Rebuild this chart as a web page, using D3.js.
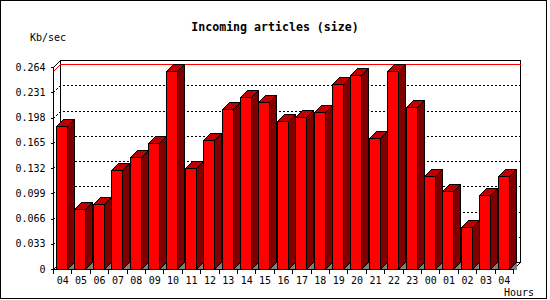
<!DOCTYPE html>
<html>
<head>
<meta charset="utf-8">
<script src="https://cdn.jsdelivr.net/npm/d3@7"></script>
<style>
  body { margin: 0; background: #fff; }
  svg { display: block; }
</style>
</head>
<body>
<div id="chart"></div>
<script>
// hours of the day, in the order shown
const hours = ["04", "05", "06", "07", "08", "09", "10", "11", "12", "13", "14", "15", "16",
               "17", "18", "19", "20", "21", "22", "23", "00", "01", "02", "03", "04b"];
const hourLabels = hours.map(h => h.slice(0, 2));

// incoming article size, Kb/sec
const kbPerSec = [0.1875, 0.0778, 0.0856, 0.130, 0.1466, 0.1649, 0.2594, 0.1323, 0.168, 0.2085,
                  0.2251, 0.2185, 0.1937, 0.1989, 0.2054, 0.2420, 0.2538, 0.1715, 0.2594, 0.212,
                  0.1218, 0.1022, 0.0552, 0.097, 0.1218];

const yTicks = [0, 0.033, 0.066, 0.099, 0.132, 0.165, 0.198, 0.231, 0.264];
const yTickLabels = ["0", "0.033", "0.066", "0.099", "0.132", "0.165", "0.198", "0.231", "0.264"];

const W = 550, H = 300;
const depth = 7;                 // 3d offset (right and up)
const plotLeft = 53.5, plotRight = 513.5, plotBottom = 269.5, plotTop = 67.5;
const barOffset = 3, barWidth = 11;
const font = "'DejaVu Sans Mono', monospace";

const x = d3.scaleBand().domain(hours).range([plotLeft, plotRight]);
const y = d3.scaleLinear().domain([0, 0.264]).range([plotBottom, plotTop]);
const snap = v => Math.round(v - 0.5) + 0.5;

const svg = d3.select("#chart").append("svg")
    .attr("width", W)
    .attr("height", H)
    .attr("shape-rendering", "crispEdges");

svg.append("rect")
    .attr("x", 0.5).attr("y", 0.5)
    .attr("width", 546).attr("height", 298)
    .attr("fill", "#fff").attr("stroke", "#000");

// title and axis captions
svg.append("text")
    .attr("x", 275).attr("y", 31)
    .attr("text-anchor", "middle")
    .attr("font-family", font).attr("font-weight", "bold").attr("font-size", 11.6)
    .text("Incoming articles (size)");

svg.append("text")
    .attr("x", 30).attr("y", 41)
    .attr("font-family", font).attr("font-size", 10)
    .text("Kb/sec");

svg.append("text")
    .attr("x", 534).attr("y", 295.5)
    .attr("text-anchor", "end")
    .attr("font-family", font).attr("font-size", 10)
    .text("Hours");

// back wall frame
const back = svg.append("g").attr("stroke", "#000").attr("fill", "none");
back.append("path")
    .attr("d", `M${plotLeft + depth},${plotBottom - depth}V${plotTop - depth}H${plotRight + depth}V${plotBottom - depth}H${plotLeft + depth}`);
back.append("path").attr("d", `M${plotLeft},${plotTop}L${plotLeft + depth},${plotTop - depth}`);
back.append("path").attr("d", `M${plotRight},${plotBottom}L${plotRight + depth},${plotBottom - depth}`);
back.append("path").attr("d", `M${plotLeft},${plotBottom}L${plotLeft + depth},${plotBottom - depth}`);

// dotted grid on the back wall
const grid = svg.append("g")
    .attr("stroke", "#000").attr("stroke-dasharray", "2,2").attr("fill", "none");
grid.selectAll("path")
    .data(yTicks.slice(1, -1))
    .join("path")
    .attr("d", d => {
        const yy = snap(y(d));
        return `M${plotLeft},${yy}L${plotLeft + depth},${yy - depth}H${plotRight + depth}`;
    });

// max line
const maxY = snap(y(d3.max(kbPerSec)));
svg.append("path")
    .attr("d", `M${plotLeft},${maxY}L${plotLeft + depth},${maxY - depth}H${plotRight + depth}`)
    .attr("stroke", "#ff0000").attr("fill", "none");

// bars
const bars = svg.append("g").selectAll("g")
    .data(kbPerSec.map((v, i) => ({ hour: hours[i], value: v })))
    .join("g");

function geom(d) {
    const xf = snap(x(d.hour) + barOffset);
    const xr = xf + barWidth;
    const yt = snap(y(d.value));
    return { xf, xr, yt };
}

bars.append("path")
    .attr("fill", "#808080")
    .attr("d", d => {
        const g = geom(d);
        return `M${g.xr},${plotBottom}L${g.xr + depth},${plotBottom - depth}V${plotBottom}Z`;
    });

bars.append("path")
    .attr("fill", "#800000").attr("stroke", "#000")
    .attr("d", d => {
        const g = geom(d);
        return `M${g.xr},${g.yt}L${g.xr + depth},${g.yt - depth}V${plotBottom - depth}L${g.xr},${plotBottom}Z`;
    });

bars.append("path")
    .attr("fill", "#c00000").attr("stroke", "#000")
    .attr("d", d => {
        const g = geom(d);
        return `M${g.xf},${g.yt}L${g.xf + depth},${g.yt - depth}H${g.xr + depth}L${g.xr},${g.yt}Z`;
    });

bars.append("rect")
    .attr("fill", "#ff0000").attr("stroke", "#000")
    .attr("x", d => geom(d).xf)
    .attr("y", d => geom(d).yt)
    .attr("width", barWidth)
    .attr("height", d => plotBottom - geom(d).yt);

// y axis
const yAxis = svg.append("g")
    .attr("transform", `translate(${plotLeft},0)`)
    .call(d3.axisLeft(y)
        .tickValues(yTicks)
        .tickFormat((d, i) => yTickLabels[i])
        .tickSize(3)
        .tickSizeOuter(0)
        .tickPadding(5)
        .offset(0));
yAxis.attr("font-family", font).attr("font-size", 10);
yAxis.selectAll("text").attr("fill", "#000");

// x axis: labels centred in bands, ticks on band edges
const xAxis = svg.append("g")
    .attr("transform", `translate(0,${plotBottom})`)
    .call(d3.axisBottom(x)
        .tickFormat((d, i) => hourLabels[i])
        .tickSize(0)
        .tickSizeOuter(0)
        .tickPadding(7)
        .offset(0));
xAxis.attr("font-family", font).attr("font-size", 10);
xAxis.selectAll("text").attr("fill", "#000");

svg.append("g").attr("stroke", "#000")
    .selectAll("line")
    .data(d3.range(hours.length + 1))
    .join("line")
    .attr("x1", i => snap(plotLeft + i * x.step()))
    .attr("x2", i => snap(plotLeft + i * x.step()))
    .attr("y1", plotBottom)
    .attr("y2", plotBottom + 4);
</script>
</body>
</html>
